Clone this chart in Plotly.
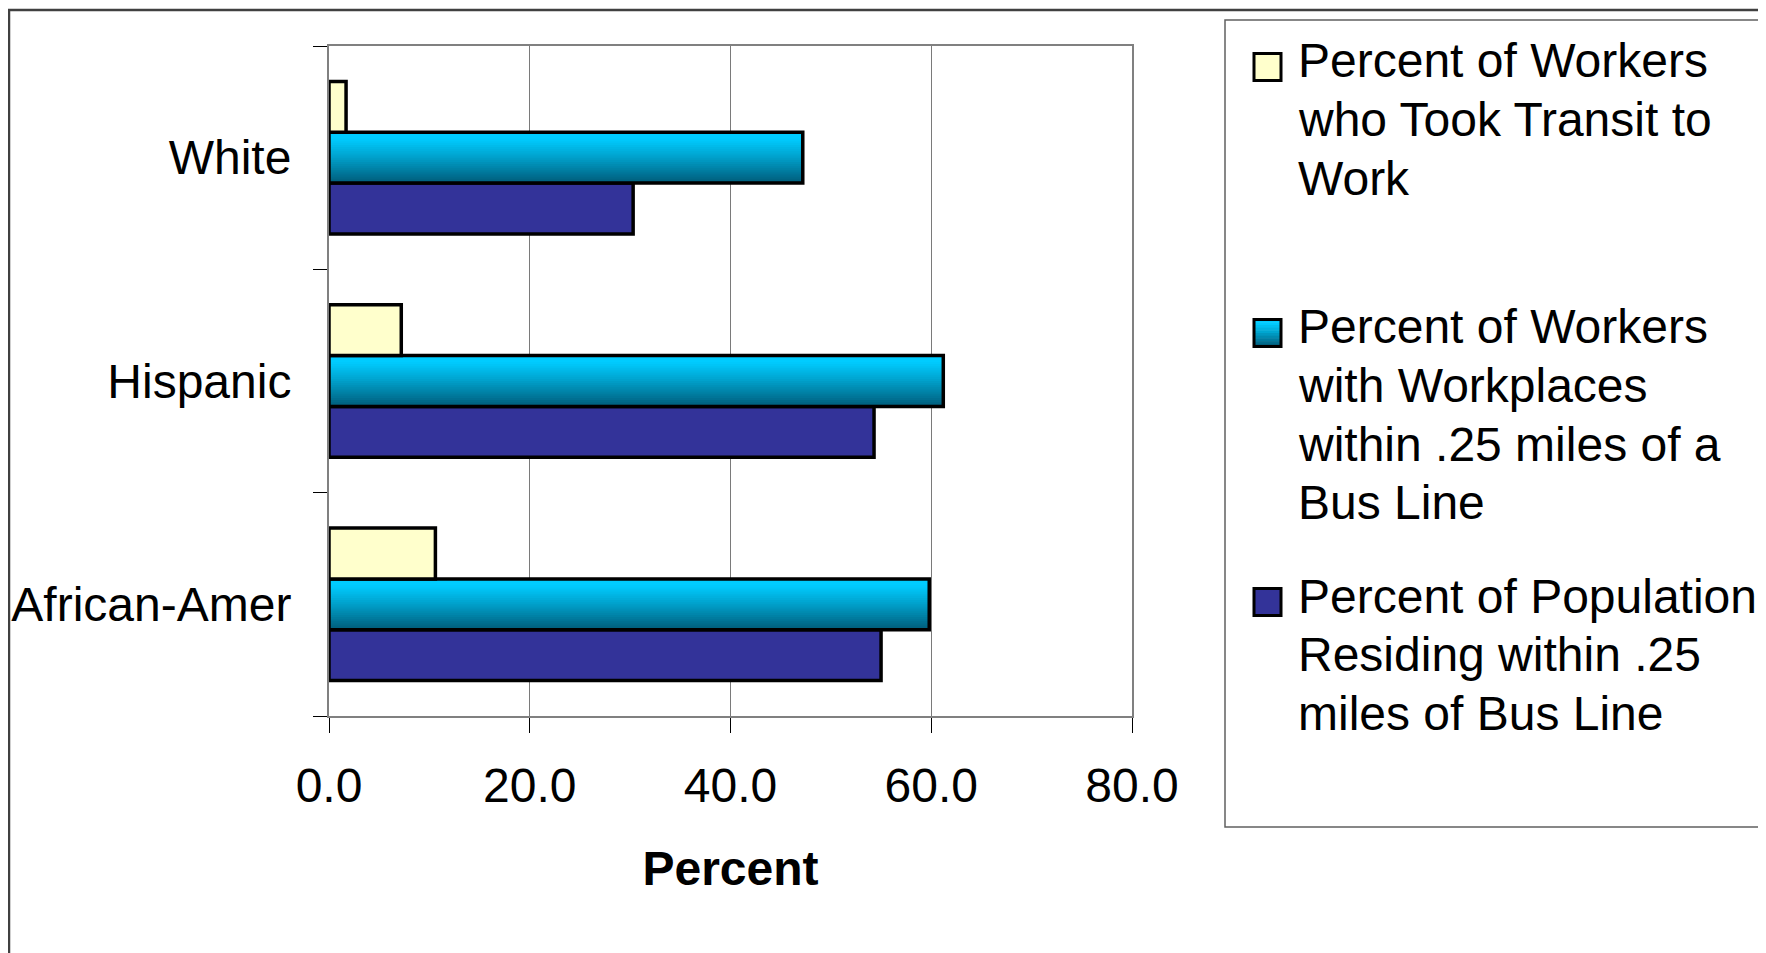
import plotly.graph_objects as go

# ---------------- data ----------------
categories = ["African-Amer", "Hispanic", "White"]          # bottom -> top
transit_pct = [10.6, 7.2, 1.7]          # Percent of Workers who Took Transit to Work
workplace_pct = [59.8, 61.2, 47.2]      # Percent of Workers with Workplaces within .25 miles of a Bus Line
residing_pct = [55.0, 54.3, 30.3]       # Percent of Population Residing within .25 miles of Bus Line
series_names = [
    "Percent of Workers who Took Transit to Work",
    "Percent of Workers with Workplaces within .25 miles of a Bus Line",
    "Percent of Population Residing within .25 miles of Bus Line",
]
legend_lines = [
    ["Percent of Workers", "who Took Transit to", "Work"],
    ["Percent of Workers", "with Workplaces", "within .25 miles of a", "Bus Line"],
    ["Percent of Population", "Residing within .25", "miles of Bus Line"],
]
x_ticks = [0, 20, 40, 60, 80]
x_title = "Percent"

# ---------------- style ----------------
PAGE_W, PAGE_H = 1766, 953
BODY = 8                               # default body margin of the html page
W, H = PAGE_W - BODY, PAGE_H - BODY
PL, PR, PT, PB = 329, 1132, 46, 716   # plot area in page pixels
FONT = "Liberation Sans, Arial, sans-serif"
FS = 48
YELLOW = "#FFFFCC"
NAVY = "#333399"
CYAN_TOP = (0, 204, 255)
CYAN_BOT = (0, 94, 124)

group = 0.683
bw = group / 3.0
base = -group / 2.0

def px_x(px):
    return (px - PL) / (PR - PL)

def px_y(py):
    return (PB - py) / (PB - PT)

def cyan_at(t):
    f = min(1.0, max(0.0, (t - 0.1) / 0.9)) ** 1.1
    return "rgb(%d,%d,%d)" % tuple(int(round(CYAN_TOP[i] + (CYAN_BOT[i] - CYAN_TOP[i]) * f)) for i in range(3))

fig = go.Figure()

# navy (bottom of each group)
fig.add_trace(go.Bar(
    y=categories, x=residing_pct, orientation="h", name=series_names[2],
    offset=base, width=bw,
    marker=dict(color=NAVY, line=dict(color="black", width=3.5)),
    showlegend=False,
))

# cyan gradient bar: overlapping slices from the bar bottom upward
N = 24
for k in range(N):
    h = bw * (1 - k / N)
    fig.add_trace(go.Bar(
        y=categories, x=workplace_pct, orientation="h",
        offset=base + bw, width=h,
        marker=dict(color=cyan_at(k / (N - 1)), line=dict(width=0)),
        showlegend=False, hoverinfo="skip",
    ))
fig.add_trace(go.Bar(
    y=categories, x=workplace_pct, orientation="h", name=series_names[1],
    offset=base + bw, width=bw,
    marker=dict(color="rgba(0,0,0,0)", line=dict(color="black", width=3.5)),
    showlegend=False,
))

# yellow (top of each group)
fig.add_trace(go.Bar(
    y=categories, x=transit_pct, orientation="h", name=series_names[0],
    offset=base + 2 * bw, width=bw,
    marker=dict(color=YELLOW, line=dict(color="black", width=3.5)),
    showlegend=False,
))

shapes = []
annotations = []

# outer chart border
shapes.append(dict(type="rect", xref="paper", yref="paper",
                   x0=px_x(9), x1=px_x(1800), y0=px_y(1000), y1=px_y(10),
                   line=dict(color="#404040", width=2.5), layer="below"))

# legend box
shapes.append(dict(type="rect", xref="paper", yref="paper",
                   x0=px_x(1225), x1=px_x(1764), y0=px_y(827), y1=px_y(20),
                   line=dict(color="#606060", width=1.5), fillcolor="white", layer="below"))

legend_fill = [YELLOW, None, NAVY]
legend_first_line = [62, 328, 597]
line_step = 58.5
for i, lines in enumerate(legend_lines):
    y0 = legend_first_line[i]
    sq_c = y0 + 5
    top, bot = sq_c - 13.5, sq_c + 13.5
    if legend_fill[i] is None:
        M = 10
        for k in range(M):
            a = top + (bot - top) * k / M
            b = top + (bot - top) * (k + 1) / M
            shapes.append(dict(type="rect", xref="paper", yref="paper",
                               x0=px_x(1254), x1=px_x(1281), y0=px_y(b + 0.5), y1=px_y(a),
                               line=dict(width=0), fillcolor=cyan_at(k / (M - 1))))
        shapes.append(dict(type="rect", xref="paper", yref="paper",
                           x0=px_x(1254), x1=px_x(1281), y0=px_y(bot), y1=px_y(top),
                           line=dict(color="black", width=3)))
    else:
        shapes.append(dict(type="rect", xref="paper", yref="paper",
                           x0=px_x(1254), x1=px_x(1281), y0=px_y(bot), y1=px_y(top),
                           line=dict(color="black", width=3), fillcolor=legend_fill[i]))
    for j, txt in enumerate(lines):
        annotations.append(dict(xref="paper", yref="paper", x=px_x(1296), y=px_y(y0 + j * line_step - 1),
                                text=txt, showarrow=False, xanchor="left", yanchor="middle",
                                font=dict(family=FONT, size=FS, color="black")))

fig.update_layout(
    width=W, height=H,
    margin=dict(l=PL - BODY, r=PAGE_W - PR, t=PT - BODY, b=PAGE_H - PB, autoexpand=False),
    paper_bgcolor="white", plot_bgcolor="white",
    barmode="overlay",
    showlegend=False,
    font=dict(family=FONT, size=FS, color="black"),
    shapes=shapes,
    annotations=annotations,
    xaxis=dict(
        range=[0, 80], tickvals=x_ticks, tickformat=".1f",
        showgrid=True, gridcolor="#7a7a7a", gridwidth=1,
        showline=True, linecolor="#808080", linewidth=2, mirror=True,
        ticks="outside", ticklen=15, tickcolor="black", tickwidth=1,
        ticklabelstandoff=11, zeroline=False,
        title=dict(text="<b>%s</b>" % x_title, standoff=41,
                   font=dict(family=FONT, size=FS, color="black")),
        tickfont=dict(family=FONT, size=FS, color="black"),
    ),
    yaxis=dict(
        type="category", categoryorder="array", categoryarray=categories,
        range=[-0.5, 2.5], tickson="boundaries",
        showgrid=False, showline=True, linecolor="#808080", linewidth=2, mirror=True,
        ticks="outside", ticklen=14, tickcolor="black", tickwidth=1,
        ticklabelstandoff=26,
        tickfont=dict(family=FONT, size=FS, color="black"),
    ),
)

fig.write_html("out.html")
